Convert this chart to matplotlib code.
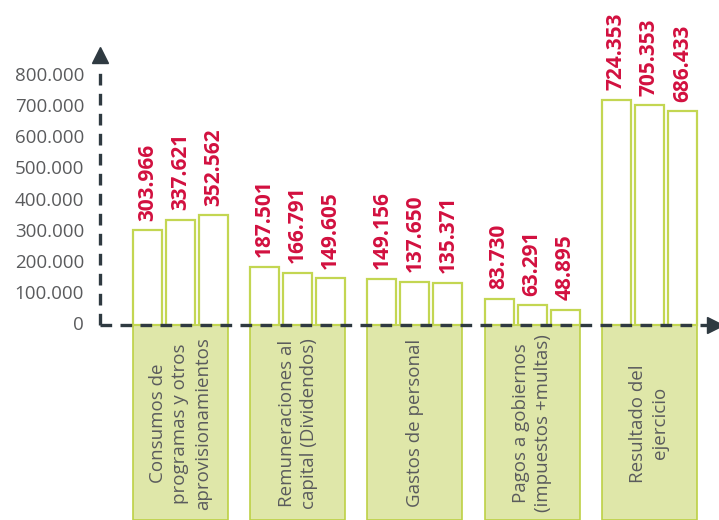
import matplotlib
matplotlib.use('Agg')
import matplotlib.pyplot as plt
import numpy as np

categories = [
    'Consumos de\nprogramas y otros\naprovisionamientos',
    'Remuneraciones al\ncapital (Dividendos)',
    'Gastos de personal',
    'Pagos a gobiernos\n(impuestos +multas)',
    'Resultado del\nejercicio',
]
serie_1 = [303966, 187501, 149156, 83730, 724353]
serie_2 = [337621, 166791, 137650, 63291, 705353]
serie_3 = [352562, 149605, 135371, 48895, 686433]
yticks = [0, 100000, 200000, 300000, 400000, 500000, 600000, 700000, 800000]

plt.rcParams['font.family'] = ['Open Sans', 'DejaVu Sans']

bar_edge = '#c3d652'
box_fill = '#dfe7a9'
box_edge = '#bdd145'
val_color = '#d2103f'
axis_color = '#2f3a41'
text_gray = '#5a5b5d'

fig = plt.figure(figsize=(7.19, 5.20), dpi=100)
ax = fig.add_axes([0, 0, 1, 1])
ax.set_xlim(-1.540, 4.595)
ax.set_ylim(-626506, 1044177)
ax.axis('off')

x = np.arange(len(categories))
pitch = 0.2816
w = 0.247
series = [serie_1, serie_2, serie_3]

# green label boxes below the axis
ax.bar(x, -626506, width=2 * pitch + w, bottom=0, color=box_fill,
       edgecolor=box_edge, lw=1.2, zorder=1)

for k, vals in enumerate(series):
    xs = x + (k - 1) * pitch
    ax.bar(xs, vals, width=w, color='white', edgecolor=bar_edge, lw=1.6, zorder=2)
    for xi, v in zip(xs, vals):
        ax.annotate(f'{v:,}'.replace(',', '.'), (xi, v), xytext=(0, 7),
                    textcoords='offset points', rotation=90, ha='center', va='bottom',
                    color=val_color, fontsize=15, fontweight='bold')

for xi, lab in zip(x, categories):
    ax.text(xi, -316000, lab, rotation=90, ha='center', va='center',
            multialignment='center', color=text_gray, fontsize=13.5, linespacing=1.3)

# dashed axes with arrow heads
x0 = -0.687
ax.plot([x0, x0], [0, 830000], ls=(0, (3.5, 2.5)), color=axis_color, lw=2.4, zorder=5)
ax.plot([x0, 4.54], [0, 0], ls=(0, (3.5, 2.5)), color=axis_color, lw=2.4, zorder=5)
ax.plot([x0], [868000], marker='^', ms=12, color=axis_color, zorder=5, clip_on=False)
ax.plot([4.56], [0], marker='>', ms=12, color=axis_color, zorder=5, clip_on=False)

for t in yticks:
    ax.text(-0.823, t, f'{t:,}'.replace(',', '.'), ha='right', va='center',
            color=text_gray, fontsize=13.5)

fig.savefig('out.png', dpi=100)
